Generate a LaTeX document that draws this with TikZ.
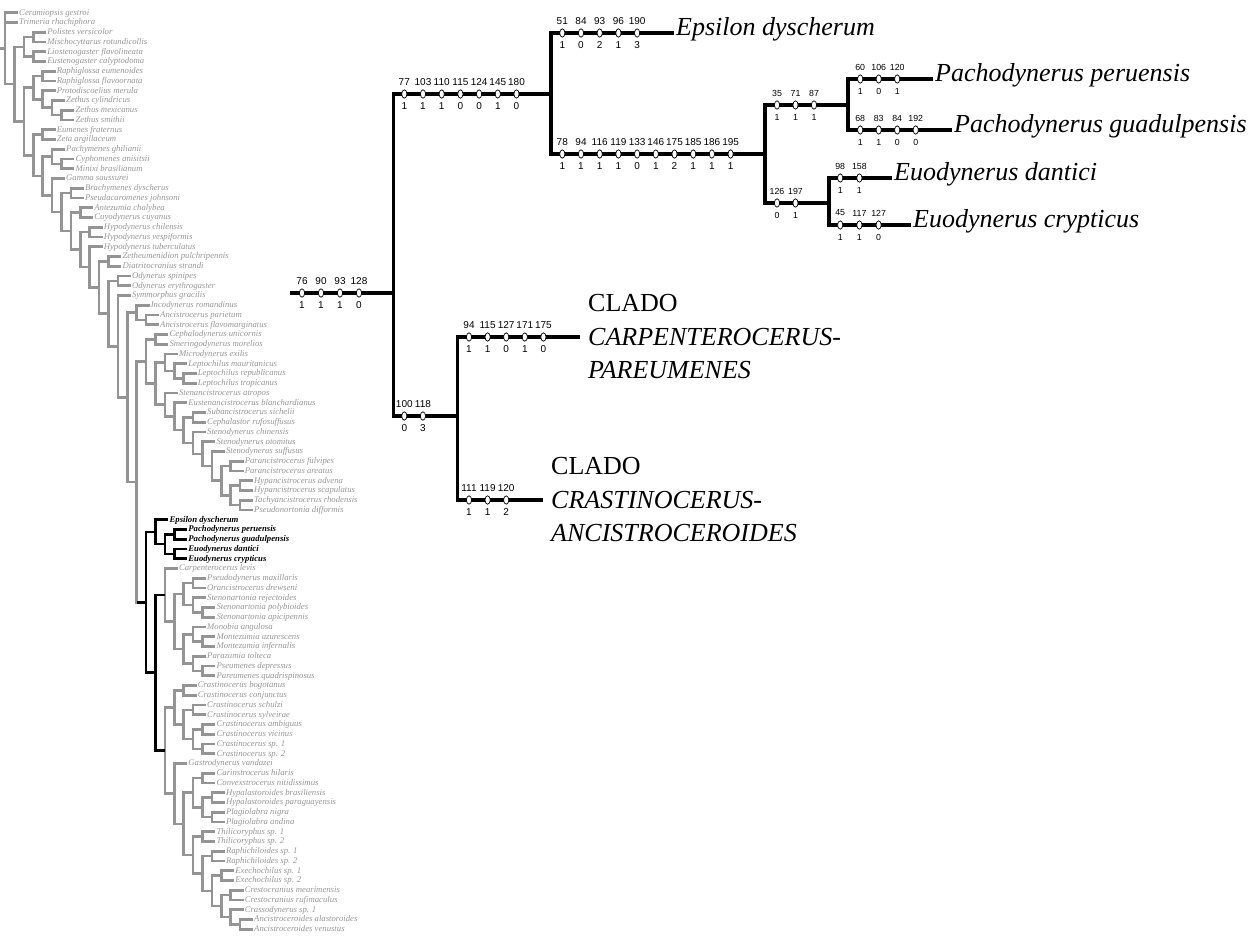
\documentclass[tikz,border=0pt]{standalone}
\usepackage{fontspec}
\setmainfont{Liberation Serif}
\setsansfont{Liberation Sans}
\usepackage{tikz}
\usetikzlibrary{calc, shapes.geometric}

\definecolor{treegray}{RGB}{148,148,148}
\definecolor{namegray}{RGB}{150,150,150}

% clade: [style]{name}{depth}{first child}{second child}
\newcommand{\clade}[5][]{%
  \path let \p1=(#4), \p2=(#5) in ({(5+9.4*#3)*1pt},{(\y1+\y2)/2}) coordinate (#2);
  \draw[branch,#1] (#2) |- (#4) (#2) |- (#5);}
% row of character changes: [number style]{prefix}{x}{y}{step}{list}
\newcommand{\changes}[6][num]{%
  \foreach \c/\s [count=\k from 0] in {#6}{
    \node[chg] (#2\k) at ({#3+#5*\k},#4) {};
    \node[#1] (#2c\k) at ({#3+#5*\k},#4-12) {\c};
    \node[#1] (#2s\k) at ({#3+#5*\k},#4+12.5) {\s};}}

\begin{document}
\begin{tikzpicture}[x=1pt, y=-1pt,
  branch/.style={draw=treegray, line width=2.6pt},
  hot/.style={draw=black},
  stem/.style={draw=black, line width=3.2pt},
  taxon/.style={anchor=west, inner sep=1pt, text height=0.7em, text depth=0.2em,
    text=namegray, font=\fontsize{8.7}{9}\selectfont\itshape},
  hottaxon/.style={taxon, text=black, font=\fontsize{8.7}{9}\selectfont\bfseries\itshape},
  bigname/.style={anchor=west, inner xsep=2pt, text height=0.7em, text depth=0.2em,
    font=\fontsize{26}{30}\selectfont\itshape},
  cladename/.style={anchor=west, inner xsep=8pt, align=left,
    font=\fontsize{26}{33.5}\selectfont},
  chg/.style={ellipse, draw, fill=white, line width=0.7pt, minimum width=5.2pt,
    minimum height=8.4pt, inner sep=0pt},
  num/.style={inner sep=0pt, font=\sffamily\fontsize{10}{10}\selectfont},
  numsm/.style={num, font=\sffamily\fontsize{8.8}{9}\selectfont}]

\useasboundingbox (0,0) rectangle (1260,937);
\coordinate (base) at (0,0);

%% full cladogram, left
\foreach \d/\t [count=\i] in {0/Ceramiopsis gestroi, 0/Trimeria rhachiphora,
  3/Polistes versicolor, 3/Mischocyttarus rotundicollis, 3/Liostenogaster flavolineata,
  3/Eustenogaster calyptodoma, 4/Raphiglossa eumenoides, 4/Raphiglossa flavoornata,
  4/Protodiscoelius merula, 5/Zethus cylindricus, 6/Zethus mexicanus, 6/Zethus smithii,
  4/Eumenes fraternus, 4/Zeta argillaceum, 5/Pachymenes ghilianii, 6/Cyphomenes anisitsii,
  6/Minixi brasilianum, 5/Gamma saussurei, 7/Brachymenes dyscherus,
  7/Pseudacaromenes johnsoni, 8/Antezumia chalybea, 8/Cuyodynerus cuyanus,
  9/Hypodynerus chilensis, 9/Hypodynerus vespiformis, 9/Hypodynerus tuberculatus,
  11/Zetheumenidion pulchripennis, 11/Diatritocranius strandi, 12/Odynerus spinipes,
  12/Odynerus erythrogaster, 12/Symmorphus gracilis, 14/Incodynerus romandinus,
  15/Ancistrocerus parietum, 15/Ancistrocerus flavomarginatus, 16/Cephalodynerus unicornis,
  16/Smeringodynerus morelios, 17/Microdynerus exilis, 18/Leptochilus mauritanicus,
  19/Leptochilus republicanus, 19/Leptochilus tropicanus, 17/Stenancistrocerus atropos,
  18/Eustenancistrocerus blanchardianus, 20/Subancistrocerus sichelii,
  20/Cephalastor rufosuffusus, 20/Stenodynerus chinensis, 21/Stenodynerus otomitus,
  22/Stenodynerus suffusus, 24/Parancistrocerus fulvipes, 24/Parancistrocerus areatus,
  25/Hypancistrocerus advena, 25/Hypancistrocerus scapulatus,
  25/Tachyancistrocerus rhodensis, 25/Pseudonortonia difformis}
  \node[taxon] (sp\i) at ({18+9.4*\d},{12.7+9.75*(\i-1)}) {\t};
\foreach \d/\t [count=\i from 53] in {16/Epsilon dyscherum, 18/Pachodynerus peruensis,
  18/Pachodynerus guadulpensis, 18/Euodynerus dantici, 18/Euodynerus crypticus}
  \node[hottaxon] (sp\i) at ({18+9.4*\d},{12.7+9.75*(\i-1)}) {\t};
\foreach \d/\t [count=\i from 58] in {17/Carpenterocerus levis,
  20/Pseudodynerus maxillaris, 20/Orancistrocerus drewseni, 20/Stenonartonia rejectoides,
  21/Stenonartonia polybioides, 21/Stenonartonia apicipennis, 20/Monobia angulosa,
  21/Montezumia azurescens, 21/Montezumia infernalis, 20/Parazumia tolteca,
  21/Pseumenes depressus, 21/Pareumenes quadrispinosus, 19/Crastinocerus bogotanus,
  19/Crastinocerus conjunctus, 20/Crastinocerus schulzi, 20/Crastinocerus sylveirae,
  21/Crastinocerus ambiguus, 21/Crastinocerus vicinus, 21/Crastinocerus sp. 1,
  21/Crastinocerus sp. 2, 18/Gastrodynerus vandazei, 21/Carinstrocerus hilaris,
  21/Convexstrocerus nitidissimus, 22/Hypalastoroides brasiliensis,
  22/Hypalastoroides paraguayensis, 22/Plagiolabra nigra, 22/Plagiolabra andina,
  21/Thilicoryphus sp. 1, 21/Thilicoryphus sp. 2, 22/Raphichiloides sp. 1,
  22/Raphichiloides sp. 2, 23/Exechochilus sp. 1, 23/Exechochilus sp. 2,
  24/Crestocranius mearimensis, 24/Crestocranius rufimaculus, 24/Crassodynerus sp. 1,
  25/Ancistroceroides alastoroides, 25/Ancistroceroides venustus}
  \node[taxon] (sp\i) at ({18+9.4*\d},{12.7+9.75*(\i-1)}) {\t};

% outgroups
\clade{cPol}{3}{sp3.west}{sp4.west}
\clade{cSteno}{3}{sp5.west}{sp6.west}
\clade{cSocial}{2}{cPol}{cSteno}
\clade{cRaph}{4}{sp7.west}{sp8.west}
\clade{cZeth3}{6}{sp11.west}{sp12.west}
\clade{cZeth2}{5}{sp10.west}{cZeth3}
\clade{cZeth}{4}{sp9.west}{cZeth2}
\clade{cRaphZeth}{3}{cRaph}{cZeth}
% eumenines
\clade{cEum}{4}{sp13.west}{sp14.west}
\clade{cCyph}{6}{sp16.west}{sp17.west}
\clade{cPachym}{5}{sp15.west}{cCyph}
\clade{cBrach}{7}{sp19.west}{sp20.west}
\clade{cAntez}{8}{sp21.west}{sp22.west}
\clade{cHypo}{9}{sp23.west}{sp24.west}
\clade{cZeteu}{11}{sp26.west}{sp27.west}
\clade{cOdyn}{12}{sp28.west}{sp29.west}
\clade{cAnc}{15}{sp32.west}{sp33.west}
\clade{cIncod}{14}{sp31.west}{cAnc}
\clade{cCephd}{16}{sp34.west}{sp35.west}
\clade{cLept2}{19}{sp38.west}{sp39.west}
\clade{cLept}{18}{sp37.west}{cLept2}
\clade{cMicro}{17}{sp36.west}{cLept}
\clade{cHypanc}{25}{sp49.west}{sp50.west}
\clade{cTachy}{25}{sp51.west}{sp52.west}
\clade{cHypTa}{24}{cHypanc}{cTachy}
\clade{cParanc}{24}{sp47.west}{sp48.west}
\clade{cPar}{23}{cParanc}{cHypTa}
\clade{cSt3}{22}{sp46.west}{cPar}
\clade{cSt2}{21}{sp45.west}{cSt3}
\clade{cSt1}{20}{sp44.west}{cSt2}
\clade{cSuban}{20}{sp42.west}{sp43.west}
\clade{cSubSt}{19}{cSuban}{cSt1}
\clade{cEustan}{18}{sp41.west}{cSubSt}
\clade{cStenanc}{17}{sp40.west}{cEustan}
\clade{cMicSt}{16}{cMicro}{cStenanc}
\clade{cCephSt}{15}{cCephd}{cMicSt}
% highlighted group
\clade[hot]{cPacho}{18}{sp54.west}{sp55.west}
\clade[hot]{cEuody}{18}{sp56.west}{sp57.west}
\clade[hot]{cPaEu}{17}{cPacho}{cEuody}
\clade[hot]{cEps}{16}{sp53.west}{cPaEu}
% carpenterocerus - pareumenes
\clade{cPseud}{20}{sp59.west}{sp60.west}
\clade{cSten2}{21}{sp62.west}{sp63.west}
\clade{cSten}{20}{sp61.west}{cSten2}
\clade{cPsSt}{19}{cPseud}{cSten}
\clade{cMontez}{21}{sp65.west}{sp66.west}
\clade{cMonob}{20}{sp64.west}{cMontez}
\clade{cPseum}{21}{sp68.west}{sp69.west}
\clade{cParaz}{20}{sp67.west}{cPseum}
\clade{cMoPa}{19}{cMonob}{cParaz}
\clade{cCarpIn}{18}{cPsSt}{cMoPa}
\clade{cCarp}{17}{sp58.west}{cCarpIn}
% crastinocerus - ancistroceroides
\clade{cCr1}{19}{sp70.west}{sp71.west}
\clade{cCr2}{20}{sp72.west}{sp73.west}
\clade{cCr3}{21}{sp74.west}{sp75.west}
\clade{cCr4}{21}{sp76.west}{sp77.west}
\clade{cCr34}{20}{cCr3}{cCr4}
\clade{cCr234}{19}{cCr2}{cCr34}
\clade{cCrast}{18}{cCr1}{cCr234}
\clade{cCarin}{21}{sp79.west}{sp80.west}
\clade{cHypal}{22}{sp81.west}{sp82.west}
\clade{cPlag}{22}{sp83.west}{sp84.west}
\clade{cHyPl}{21}{cHypal}{cPlag}
\clade{cCaHy}{20}{cCarin}{cHyPl}
\clade{cThil}{21}{sp85.west}{sp86.west}
\clade{cRaphi}{22}{sp87.west}{sp88.west}
\clade{cExe}{23}{sp89.west}{sp90.west}
\clade{cCresto}{24}{sp91.west}{sp92.west}
\clade{cAncoid}{25}{sp94.west}{sp95.west}
\clade{cCrass}{24}{sp93.west}{cAncoid}
\clade{cCrCr}{23}{cCresto}{cCrass}
\clade{cExCr}{22}{cExe}{cCrCr}
\clade{cRaExCr}{21}{cRaphi}{cExCr}
\clade{cThRa}{20}{cThil}{cRaExCr}
\clade{cGas2}{19}{cCaHy}{cThRa}
\clade{cGastro}{18}{sp78.west}{cGas2}
\clade{cCrGa}{17}{cCrast}{cGastro}
\clade[hot]{cRest}{16}{cCarp}{cCrGa}
\clade[hot]{cHot}{15}{cEps}{cRest}
% backbone
\clade{cK}{14}{cCephSt}{cHot}
\clade{cQ}{13}{cIncod}{cK}
\clade{cSymm}{12}{sp30.west}{cQ}
\clade{cO}{11}{cOdyn}{cSymm}
\clade{cN}{10}{cZeteu}{cO}
\clade{cM}{9}{sp25.west}{cN}
\clade{cJ}{8}{cHypo}{cM}
\clade{cI}{7}{cAntez}{cJ}
\clade{cH}{6}{cBrach}{cI}
\clade{cGamma}{5}{sp18.west}{cH}
\clade{cF}{4}{cPachym}{cGamma}
\clade{cEumen}{3}{cEum}{cF}
\clade{cB}{2}{cRaphZeth}{cEumen}
\clade{cA}{1}{cSocial}{cB}
\draw[branch,hot] (cK |- cHot) -- (cHot);
\path let \p1=(sp1.west), \p2=(cA) in (5pt,{(\y1+\y2)/2}) coordinate (root);
\draw[branch] (root -| base) -- (root) |- (sp1.west) (root) |- (sp2.west) (root) |- (cA);

%% reduced tree, right
\node[bigname] (eps) at (674,33) {Epsilon dyscherum};
\node[bigname] (peru) at (933,79) {Pachodynerus peruensis};
\node[bigname] (guad) at (952,130) {Pachodynerus guadulpensis};
\node[bigname] (dant) at (892,178) {Euodynerus dantici};
\node[bigname] (cryp) at (911,225) {Euodynerus crypticus};
\node[cladename] (carp) at (580,337) {CLADO\\\textit{CARPENTEROCERUS-}\\\textit{PAREUMENES}};
\node[cladename] (crast) at (543,500) {CLADO\\\textit{CRASTINOCERUS-}\\\textit{ANCISTROCEROIDES}};

\coordinate (rs) at (290,293);
\coordinate (r0) at (393.5,293);
\coordinate (n1) at (551,94);
\coordinate (n2) at (765,154);
\coordinate (n3) at (848,105);
\coordinate (n4) at (829,203);
\coordinate (n5) at (457.5,416);

\draw[stem] (rs) -- (r0) |- (n1) (r0) |- (n5);
\draw[stem] (n1) |- (eps.west) (n1) |- (n2);
\draw[stem] (n2) |- (n3) (n2) |- (n4);
\draw[stem] (n3) |- (peru.west) (n3) |- (guad.west);
\draw[stem] (n4) |- (dant.west) (n4) |- (cryp.west);
\draw[stem] (n5) |- (carp.west) (n5) |- (crast.west);

\changes{ra}{302}{293}{19}{76/1,90/1,93/1,128/0}
\changes{rb}{404.3}{94}{18.7}{77/1,103/1,110/1,115/0,124/0,145/1,180/0}
\changes{rc}{562.3}{33}{18.7}{51/1,84/0,93/2,96/1,190/3}
\changes{rd}{562.3}{154}{18.7}{78/1,94/1,116/1,119/1,133/0,146/1,175/2,185/1,186/1,195/1}
\changes[numsm]{re}{777}{105}{18.5}{35/1,71/1,87/1}
\changes[numsm]{rf}{860.2}{79}{18.5}{60/1,106/0,120/1}
\changes[numsm]{rg}{860.2}{130}{18.5}{68/1,83/1,84/0,192/0}
\changes[numsm]{rh}{777}{203}{18.5}{126/0,197/1}
\changes[numsm]{ri}{840.2}{178}{19.2}{98/1,158/1}
\changes[numsm]{rj}{840.2}{225}{19.2}{45/1,117/1,127/0}
\changes{rk}{404.3}{416}{18.6}{100/0,118/3}
\changes{rl}{469}{337}{18.6}{94/1,115/1,127/0,171/1,175/0}
\changes{rm}{469}{500}{18.6}{111/1,119/1,120/2}
\end{tikzpicture}
\end{document}
